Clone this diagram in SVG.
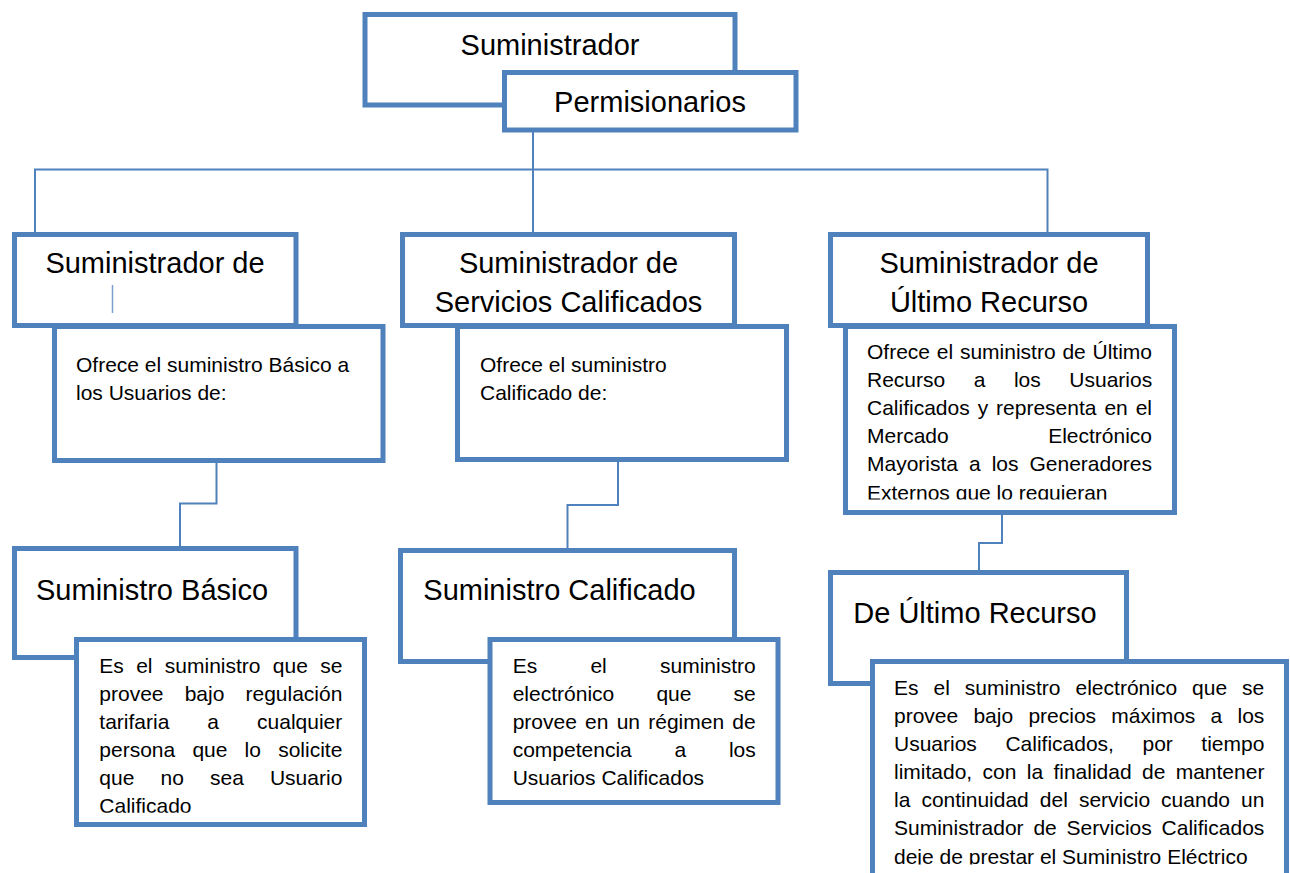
<svg xmlns="http://www.w3.org/2000/svg" width="1290" height="873" viewBox="0 0 1290 873">
<style>
.box{fill:#fff;stroke:#4F81BD;stroke-width:5}
.conn{fill:none;stroke:#4F81BD;stroke-width:2}
.t{font-family:"Liberation Sans",Arial,sans-serif;fill:#000}
.big{font-size:29px}
.sm{font-size:21px}
.mid{text-anchor:middle}
</style>
<defs>
<clipPath id="clipC"><rect x="845" y="330" width="330" height="169.5"/></clipPath>
<clipPath id="clipD"><rect x="76" y="640" width="290" height="172.7"/></clipPath>
<clipPath id="clipF"><rect x="872" y="662" width="415" height="202.5"/></clipPath>
</defs>
<rect width="1290" height="873" fill="#fff"/>
<g id="connectors" class="conn">
<path d="M533 130 V169.5 M35 232 V169.5 H1047.5 V232 M533 169.5 V232"/>
<path d="M216.5 461 V503.5 H180 V548"/>
<path d="M618 460 V505 H567.5 V550"/>
<path d="M1002 514 V543 H979 V572"/>
</g>
<g id="suministrador">
<rect class="box" x="365" y="14.5" width="370" height="90.5"/>
<text class="t big mid" x="550" y="55">Suministrador</text>
</g>
<g id="permisionarios">
<rect class="box" x="504.5" y="72.5" width="291.5" height="57.5"/>
<text class="t big mid" x="650" y="112">Permisionarios</text>
</g>
<g id="sum-basico-title">
<rect class="box" x="14.5" y="234.5" width="281.5" height="91"/>
<text class="t big mid" x="155" y="273">Suministrador de</text>
<line x1="112.5" y1="285" x2="112.5" y2="313" stroke="#4F81BD" stroke-width="1.5" opacity="0.75"/>
</g>
<g id="sum-basico-desc">
<rect class="box" x="54.5" y="326.5" width="328.5" height="134"/>
<text class="t sm" x="76" y="372">Ofrece el suministro Básico a</text>
<text class="t sm" x="76" y="400">los Usuarios de:</text>
</g>
<g id="sum-calif-title">
<rect class="box" x="402.5" y="234.5" width="332" height="91"/>
<text class="t big mid" x="568.5" y="273">Suministrador de</text>
<text class="t big mid" x="568.5" y="311.5">Servicios Calificados</text>
</g>
<g id="sum-calif-desc">
<rect class="box" x="457.5" y="326.5" width="329" height="133"/>
<text class="t sm" x="480" y="371.5">Ofrece el suministro</text>
<text class="t sm" x="480" y="400">Calificado de:</text>
</g>
<g id="sum-ultimo-title">
<rect class="box" x="830.5" y="234.5" width="317" height="91"/>
<text class="t big mid" x="989" y="273">Suministrador de</text>
<text class="t big mid" x="989" y="311.5">Último Recurso</text>
</g>
<g id="sum-ultimo-desc">
<rect class="box" x="845.5" y="326.5" width="329" height="186"/>
<text class="t sm" x="867" y="359" word-spacing="0.94">Ofrece el suministro de Último</text>
<text class="t sm" x="867" y="387" word-spacing="22.7">Recurso a los Usuarios</text>
<text class="t sm" x="867" y="415" word-spacing="2.09">Calificados y representa en el</text>
<text class="t sm" x="867" y="443" word-spacing="93.6">Mercado Electrónico</text>
<text class="t sm" x="867" y="471" word-spacing="5.13">Mayorista a los Generadores</text>
<text class="t sm" x="867" y="499.5" clip-path="url(#clipC)">Externos que lo requieran</text>
</g>
<g id="basico-title">
<rect class="box" x="14.5" y="548.5" width="281.5" height="109"/>
<text class="t big" x="36" y="599.5">Suministro Básico</text>
</g>
<g id="basico-desc">
<rect class="box" x="76.5" y="639.5" width="288" height="185"/>
<text class="t sm" x="99.3" y="673" word-spacing="6.5">Es el suministro que se</text>
<text class="t sm" x="99.3" y="701" word-spacing="15.3">provee bajo regulación</text>
<text class="t sm" x="99.3" y="729" word-spacing="32.2">tarifaria a cualquier</text>
<text class="t sm" x="99.3" y="757" word-spacing="11.36">persona que lo solicite</text>
<text class="t sm" x="99.3" y="785" word-spacing="20.3">que no sea Usuario</text>
<text class="t sm" x="99.3" y="813" clip-path="url(#clipD)">Calificado</text>
</g>
<g id="calificado-title">
<rect class="box" x="400.5" y="550.5" width="334" height="111"/>
<text class="t big" x="423.3" y="600">Suministro Calificado</text>
</g>
<g id="calificado-desc">
<rect class="box" x="490" y="639.5" width="288" height="163"/>
<text class="t sm" x="512.7" y="673" word-spacing="47.4">Es el suministro</text>
<text class="t sm" x="512.7" y="701" word-spacing="36.3">electrónico que se</text>
<text class="t sm" x="512.7" y="729" word-spacing="2.38">provee en un régimen de</text>
<text class="t sm" x="512.7" y="757" word-spacing="36.9">competencia a los</text>
<text class="t sm" x="512.7" y="785">Usuarios Calificados</text>
</g>
<g id="ultimo-title">
<rect class="box" x="830.5" y="572.5" width="296" height="111"/>
<text class="t big" x="853.3" y="622.5">De Último Recurso</text>
</g>
<g id="ultimo-desc">
<rect class="box" x="872.5" y="661.5" width="414" height="240"/>
<text class="t sm" x="894" y="695" word-spacing="9.16">Es el suministro electrónico que se</text>
<text class="t sm" x="894" y="723" word-spacing="9.4">provee bajo precios máximos a los</text>
<text class="t sm" x="894" y="751" word-spacing="22.7">Usuarios Calificados, por tiempo</text>
<text class="t sm" x="894" y="779" word-spacing="4.5">limitado, con la finalidad de mantener</text>
<text class="t sm" x="894" y="807" word-spacing="5.2">la continuidad del servicio cuando un</text>
<text class="t sm" x="894" y="835" word-spacing="4.0">Suministrador de Servicios Calificados</text>
<text class="t sm" x="894" y="863.5" clip-path="url(#clipF)">deje de prestar el Suministro Eléctrico</text>
</g>
</svg>
